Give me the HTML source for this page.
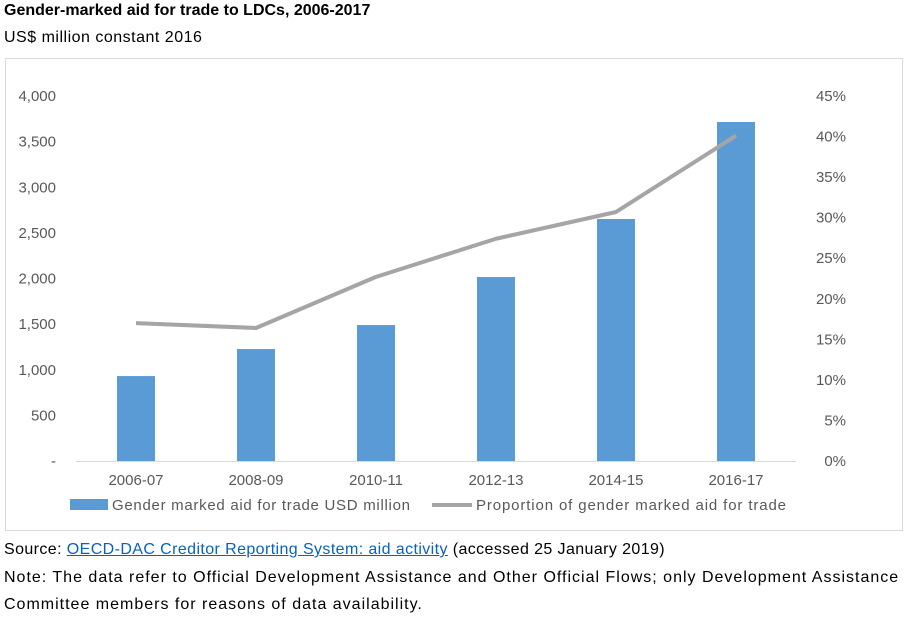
<!DOCTYPE html>
<html><head><meta charset="utf-8"><style>
body{margin:0;width:908px;height:627px;background:#fff;font-family:"Liberation Sans",sans-serif;overflow:hidden;position:relative}
.t{position:absolute;white-space:nowrap}
</style></head><body>
<div class="t" style="left:4px;top:2px;font-size:16px;font-weight:bold;color:#000">Gender-marked aid for trade to LDCs, 2006-2017</div>
<div class="t" style="left:4px;top:29px;font-size:16px;letter-spacing:0.5px;color:#000">US$ million constant 2016</div>
<svg id="chart" width="908" height="627" style="position:absolute;left:0;top:0">
<rect x="5.5" y="58.5" width="897" height="472" fill="none" stroke="#d9d9d9"/>
</svg>
<div class="t" style="left:4px;top:541px;font-size:16px;letter-spacing:0.4px">Source: <span style="color:#0563c1;text-decoration:underline">OECD-DAC Creditor Reporting System: aid activity</span> (accessed 25 January 2019)</div>
<div class="t" style="left:4px;top:569px;font-size:16px;letter-spacing:1px">Note: The data refer to Official Development Assistance and Other Official Flows; only Development Assistance</div>
<div class="t" style="left:4px;top:596px;font-size:16px;letter-spacing:1px">Committee members for reasons of data availability.</div>
<script>
const categories=["2006-07","2008-09","2010-11","2012-13","2014-15","2016-17"];
const aidValues=[931,1227,1490,2016,2652,3715];
const proportionValues=[17.0,16.4,22.7,27.4,30.7,40.1];
const leftTicks=[0,500,1000,1500,2000,2500,3000,3500,4000];
const leftTickLabels=["-","500","1,000","1,500","2,000","2,500","3,000","3,500","4,000"];
const rightTicks=[0,5,10,15,20,25,30,35,40,45];
const rightTickLabels=["0%","5%","10%","15%","20%","25%","30%","35%","40%","45%"];
const NS="http://www.w3.org/2000/svg",svg=document.getElementById('chart');
const x0=76,x1=796,yB=461,yT=96;
const xc=i=>x0+(x1-x0)/categories.length*(i+0.5);
const yL=v=>yB-(v/4000)*(yB-yT);
const yR=v=>yB-(v/45)*(yB-yT);
function mk(t,a){const e=document.createElementNS(NS,t);for(const k in a)e.setAttribute(k,a[k]);svg.appendChild(e);return e;}
leftTicks.forEach((v,i)=>{const e=mk('text',{x:56,y:yL(v)+5,'text-anchor':'end','font-size':15,fill:'#595959'});e.textContent=leftTickLabels[i];

});
rightTicks.forEach((v,i)=>{const e=mk('text',{x:846,y:yR(v)+5,'text-anchor':'end','font-size':15,fill:'#595959'});e.textContent=rightTickLabels[i];

});
const ax=mk('line',{x1:x0,x2:x1,y1:yB+0.5,y2:yB+0.5,stroke:'#d9d9d9'});


aidValues.forEach((v,i)=>{const b=mk('rect',{x:xc(i)-19,y:yL(v),width:38,height:yB-yL(v),fill:'#5b9bd5'});

});
categories.forEach((c,i)=>{const e=mk('text',{x:xc(i),y:485,'text-anchor':'middle','font-size':15,fill:'#595959'});e.textContent=c;

});
const pl=mk('polyline',{points:proportionValues.map((v,i)=>xc(i)+','+yR(v)).join(' '),fill:'none',stroke:'#a5a5a5','stroke-width':4,'stroke-linejoin':'round'});


const l1=mk('rect',{x:70,y:499,width:38,height:11,fill:'#5b9bd5'});


const t1=mk('text',{x:112,y:510,'font-size':15,fill:'#595959',textLength:298,lengthAdjust:'spacing'});t1.textContent='Gender marked aid for trade USD million';


const l2=mk('line',{x1:432,x2:472,y1:505,y2:505,stroke:'#a5a5a5','stroke-width':4});


const t2=mk('text',{x:476,y:510,'font-size':15,fill:'#595959',textLength:310,lengthAdjust:'spacing'});t2.textContent='Proportion of gender marked aid for trade';


</script>
</body></html>
